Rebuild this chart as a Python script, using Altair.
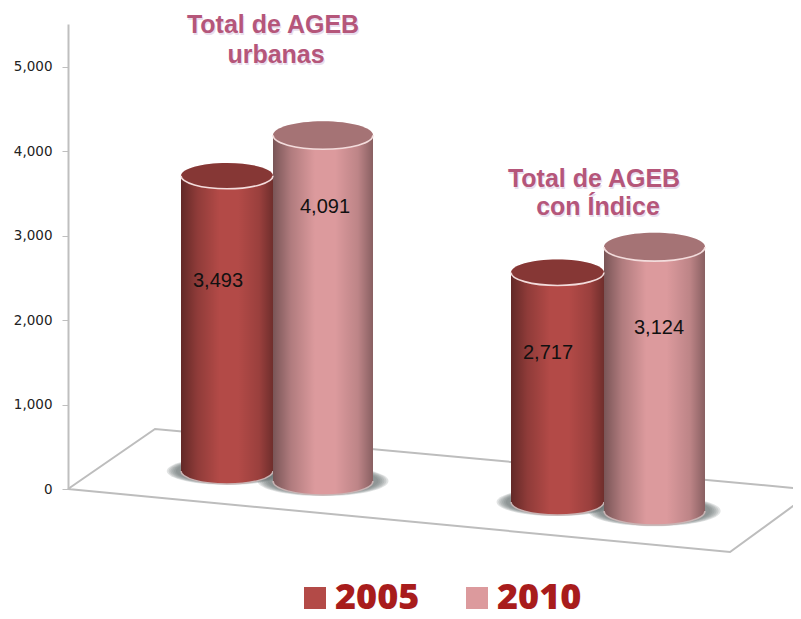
import altair as alt
import pandas as pd

# --- chart values ---
series = ["2005", "2010", "2005", "2010"]
values = [3493, 4091, 2717, 3124]
floor_level = [213, 95, -154, -260]      # where each cylinder stands on the tilted floor
cyl_left = [181, 273, 511, 604]
cyl_right = [273, 373, 604, 705]
value_label_x = [218, 325, 548, 659]
value_label_y = [2461, 3337, 1609, 1905]

floor_x = [68, 155, 815, 730, 68]
floor_y = [0, 710, -12, -746, 0]

note_text = ["Total  de AGEB", "urbanas", "Total de AGEB", "con Índice"]
note_x = [273, 276, 594, 598]
note_y = [5396, 5041, 3574, 3243]

shadow_spread = [1.31, 1.27, 1.23, 1.19, 1.15, 1.11]

SERIES_COLORS = ["#b34a47", "#dc9a9d"]
ASPECT = 0.28
SHADOW_ASPECT = 0.23

df = pd.DataFrame({"series": series, "value": values, "base": floor_level,
                   "left": cyl_left, "right": cyl_right})
df["top"] = df["base"] + df["value"]
df["mid"] = (df["left"] + df["right"]) / 2
df["size"] = (df["right"] - df["left"]) ** 2
df["lab_x"] = value_label_x
df["lab_y"] = value_label_y

shadow_rows = []
for s in shadow_spread:
    for _, r in df.iterrows():
        shadow_rows.append({"mid": r["mid"], "base": r["base"], "size": r["size"] * s * s})
shadow_df = pd.DataFrame(shadow_rows)

floor_df = pd.DataFrame({"x": floor_x, "y": floor_y, "i": range(len(floor_x))})
note_df = pd.DataFrame({"t": note_text, "x": note_x, "y": note_y})

xs = alt.Scale(domain=[68, 793], range=[0, 725])
ys = alt.Scale(domain=[0, 5503], range=[465, 0])
yaxis = alt.Axis(
    values=[0, 1000, 2000, 3000, 4000, 5000], labelExpr="format(datum.value, ',')", grid=False, title=None,
    domainColor="#bfbfbf", domainWidth=2, tickColor="#bfbfbf", tickSize=6, tickWidth=1,
    labelFont="DejaVu Sans", labelFontSize=13.5, labelColor="#222222", labelPadding=10)
X = lambda f: alt.X(f, type="quantitative", scale=xs, axis=None, title=None)
Y = lambda f: alt.Y(f, type="quantitative", scale=ys, axis=yaxis, title=None)
SIZE = alt.Size("size:Q", scale=None, legend=None)

legend = alt.Legend(
    title=None, orient="none", legendX=229, legendY=556, direction="horizontal",
    symbolType="square", symbolSize=484, symbolStrokeWidth=0, symbolOpacity=1,
    labelFont="Open Sans", labelFontWeight=800, labelFontSize=36, labelColor="#a81c1c",
    labelOffset=2, columnPadding=39, padding=0, labelLimit=200,
)
COLOR = alt.Color("series:N", scale=alt.Scale(domain=["2005", "2010"], range=SERIES_COLORS), legend=legend)

shade = alt.LinearGradient(
    gradient="linear", x1=0, x2=1, y1=0, y2=0,
    stops=[
        alt.GradientStop(offset=0, color="rgba(0,0,0,0.45)"),
        alt.GradientStop(offset=0.18, color="rgba(0,0,0,0.2)"),
        alt.GradientStop(offset=0.42, color="rgba(0,0,0,0)"),
        alt.GradientStop(offset=0.62, color="rgba(0,0,0,0)"),
        alt.GradientStop(offset=0.85, color="rgba(0,0,0,0.14)"),
        alt.GradientStop(offset=1, color="rgba(0,0,0,0.38)"),
    ],
)

full = f"M-1,0 A1,{ASPECT} 0 1,1 1,0 A1,{ASPECT} 0 1,1 -1,0 Z"
shadow_shape = f"M-1,0 A1,{SHADOW_ASPECT} 0 1,1 1,0 A1,{SHADOW_ASPECT} 0 1,1 -1,0 Z"
lower_open = f"M-1,0 A1,{ASPECT} 0 0,0 1,0"

floor = alt.Chart(floor_df).mark_line(color="#bdbdbd", strokeWidth=2).encode(
    x=X("x"), y=Y("y"), order="i:Q",
)

shadow = alt.Chart(shadow_df).mark_point(
    shape=shadow_shape, filled=True, color="#6a7573", opacity=0.2, strokeWidth=0
).encode(x=X("mid"), y=Y("base"), size=SIZE)

cyl = alt.Chart(df)
bottom_solid = cyl.mark_point(shape=full, filled=True, opacity=1, strokeWidth=0).encode(
    x=X("mid"), y=Y("base"), size=SIZE, color=COLOR)
bottom_shade = cyl.mark_point(shape=full, filled=True, fill=shade, opacity=1, strokeWidth=0).encode(
    x=X("mid"), y=Y("base"), size=SIZE)
bottom_rim = cyl.mark_point(shape=lower_open, filled=False, color="#c8b4b4", opacity=1, strokeWidth=1.5).encode(
    x=X("mid"), y=Y("base"), size=SIZE)
body = cyl.mark_rect(opacity=1).encode(x=X("left"), x2="right:Q", y=Y("top"), y2="base:Q", color=COLOR)
body_shade = cyl.mark_rect(fill=shade, opacity=1).encode(x=X("left"), x2="right:Q", y=Y("top"), y2="base:Q")
top_solid = cyl.mark_point(shape=full, filled=True, opacity=1, strokeWidth=0).encode(
    x=X("mid"), y=Y("top"), size=SIZE, color=COLOR)
top_dark = cyl.mark_point(shape=full, filled=True, color="#000000", opacity=0.25, strokeWidth=0).encode(
    x=X("mid"), y=Y("top"), size=SIZE)
top_rim = cyl.mark_point(shape=lower_open, filled=False, color="#f3dcdc", opacity=1, strokeWidth=1.6).encode(
    x=X("mid"), y=Y("top"), size=SIZE)

value_text = cyl.mark_text(font="Liberation Sans", fontSize=20, color="#111111", baseline="middle").encode(
    x=X("lab_x"), y=Y("lab_y"), text=alt.Text("value:Q", format=","))

note_shadow = alt.Chart(note_df).mark_text(
    font="Liberation Sans", fontWeight="bold", fontSize=25, color="#d9c8e2", opacity=0.6,
    baseline="alphabetic", dy=2, dx=1
).encode(x=X("x"), y=Y("y"), text="t:N")
note = alt.Chart(note_df).mark_text(
    font="Liberation Sans", fontWeight="bold", fontSize=25, color="#b5567a", baseline="alphabetic"
).encode(x=X("x"), y=Y("y"), text="t:N")

chart = alt.layer(
    floor, shadow, bottom_solid, bottom_shade, bottom_rim, body, body_shade,
    top_solid, top_dark, top_rim, value_text, note_shadow, note,
).properties(
    width=725, height=465,
    autosize=alt.AutoSizeParams(type="none"),
    padding={"left": 60, "top": 16, "right": 0, "bottom": 122},
).configure_view(stroke=None)

chart.save("out.html", embed_options={"renderer": "svg", "actions": False})
